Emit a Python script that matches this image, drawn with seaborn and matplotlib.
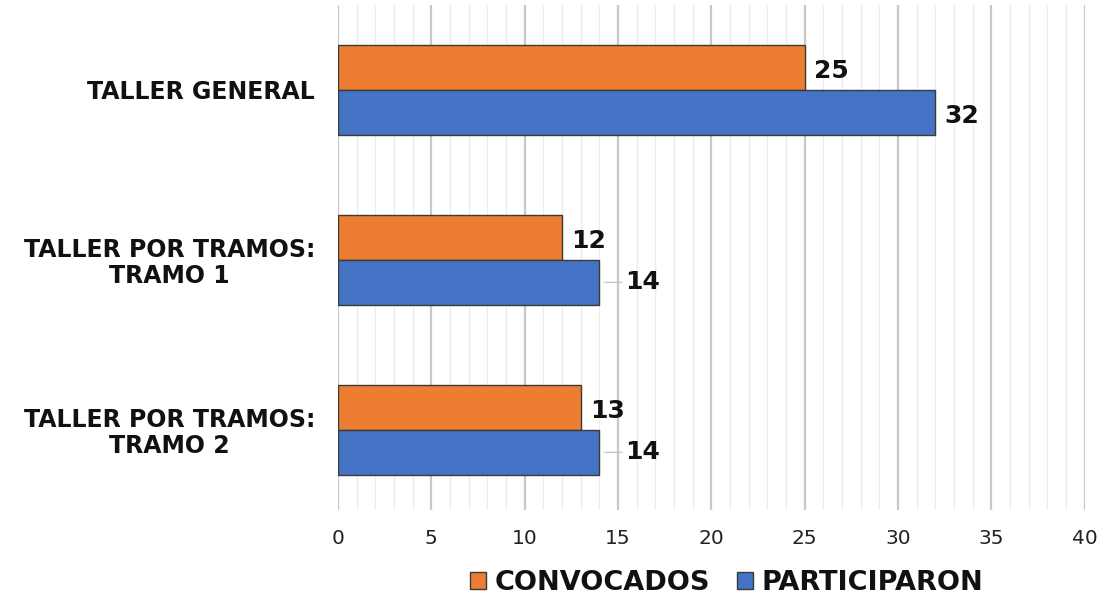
import numpy as np
import pandas as pd
import seaborn as sns
import matplotlib.pyplot as plt
from matplotlib.patches import Patch
from matplotlib.ticker import MultipleLocator

# Data
talleres = ['TALLER GENERAL', 'TALLER POR TRAMOS:\nTRAMO 1', 'TALLER POR TRAMOS:\nTRAMO 2']
convocados = [25, 12, 13]
participaron = [32, 14, 14]
series = ['CONVOCADOS', 'PARTICIPARON']
colors = ['#ED7D31', '#4472C4']

df = pd.DataFrame({
    'taller': talleres * 2,
    'serie': [series[0]] * 3 + [series[1]] * 3,
    'valor': convocados + participaron,
})

sns.set_theme(style='white')
plt.rcParams['font.family'] = ['DejaVu Sans']

fig, ax = plt.subplots(figsize=(10.99, 5.99), dpi=100)
fig.subplots_adjust(left=0.3075, right=0.987, top=0.992, bottom=0.149)

sns.barplot(data=df, y='taller', x='valor', hue='serie', palette=colors,
            saturation=1, orient='h', width=0.53, edgecolor='#3a3a3a',
            linewidth=1.0, ax=ax, legend=False, zorder=3)

# Grid: major every 5, minor every 1
ax.set_xlim(0, 40)
ax.set_ylim(2.47, -0.5)
ax.xaxis.set_major_locator(MultipleLocator(5))
ax.xaxis.set_minor_locator(MultipleLocator(1))
ax.grid(which='major', axis='x', color='#c8c8c8', linewidth=1.6, zorder=0)
ax.grid(which='minor', axis='x', color='#ececec', linewidth=1.0, zorder=0)
ax.grid(axis='y', visible=False)
for s in ax.spines.values():
    s.set_visible(False)
ax.tick_params(axis='both', which='both', length=0)
ax.tick_params(axis='x', labelsize=14.5, colors='#222222', pad=14)
ax.tick_params(axis='y', pad=16.5)
for lbl in ax.get_yticklabels():
    lbl.set_fontweight('bold')
    lbl.set_fontsize(17)
    lbl.set_multialignment('center')
    lbl.set_linespacing(1.1)
    lbl.set_color('#111111')
ax.set_xlabel('')
ax.set_ylabel('')

# Value labels (with leader line when pushed away from the bar)
for cont in ax.containers:
    for rect in cont:
        w = rect.get_width()
        yc = rect.get_y() + rect.get_height() / 2
        if w == 14:
            ax.annotate(f'{int(w)}', xy=(w, yc), xytext=(w + 1.4, yc),
                        ha='left', va='center', fontsize=18, fontweight='bold',
                        color='#111111',
                        arrowprops=dict(arrowstyle='-', color='#c8c8c8', lw=1,
                                        shrinkA=0, shrinkB=4))
        else:
            ax.text(w + 0.5, yc + 0.02, f'{int(w)}', ha='left', va='center',
                    fontsize=18, fontweight='bold', color='#111111')

handles = [Patch(facecolor=c, edgecolor='#3a3a3a', linewidth=1.0) for c in colors]
fig.legend(handles, series, loc='center', bbox_to_anchor=(0.661, 0.027), ncol=2,
           frameon=False, prop={'weight': 'bold', 'size': 19.5},
           labelcolor='#111111',
           handlelength=0.6, handleheight=0.6, handletextpad=0.3, columnspacing=1.0)

plt.savefig('out.png', dpi=100)
plt.close()
